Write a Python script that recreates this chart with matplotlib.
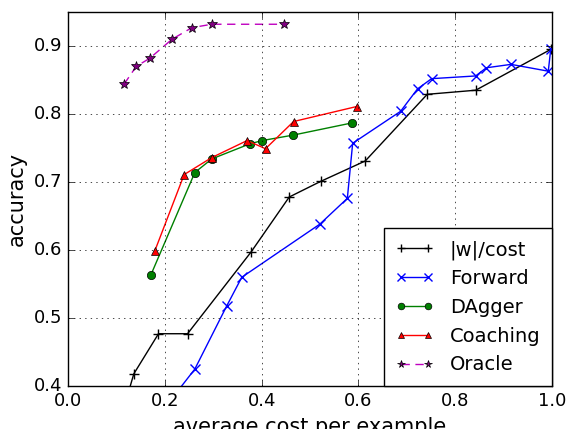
import matplotlib
matplotlib.use("Agg")
import matplotlib.pyplot as plt

plt.style.use('classic')

w_x = [0.10, 0.136, 0.187, 0.247, 0.378, 0.457, 0.522, 0.614, 0.742, 0.842, 0.997]
w_y = [0.33, 0.418, 0.477, 0.477, 0.597, 0.678, 0.701, 0.731, 0.829, 0.835, 0.895]

fw_x = [0.18, 0.262, 0.328, 0.359, 0.520, 0.577, 0.588, 0.687, 0.722, 0.751, 0.842, 0.864, 0.915, 0.992, 0.997]
fw_y = [0.35, 0.425, 0.518, 0.560, 0.638, 0.676, 0.757, 0.804, 0.837, 0.852, 0.856, 0.868, 0.873, 0.863, 0.895]

dag_x = [0.171, 0.262, 0.297, 0.375, 0.401, 0.465, 0.587]
dag_y = [0.563, 0.714, 0.734, 0.756, 0.761, 0.769, 0.787]

coach_x = [0.179, 0.240, 0.297, 0.370, 0.408, 0.466, 0.596]
coach_y = [0.598, 0.711, 0.736, 0.761, 0.749, 0.789, 0.811]

oracle_x = [0.116, 0.141, 0.169, 0.215, 0.256, 0.297, 0.446]
oracle_y = [0.844, 0.870, 0.882, 0.910, 0.927, 0.932, 0.932]

fig = plt.figure(figsize=(5.71, 4.29), dpi=100, facecolor='white')
ax = fig.add_axes([0.119, 0.100, 0.848, 0.872])

ax.plot(w_x, w_y, 'k+-', label='|w|/cost', markersize=7, markeredgewidth=1)
ax.plot(fw_x, fw_y, 'bx-', label='Forward', markersize=7, markeredgewidth=1)
ax.plot(dag_x, dag_y, 'go-', label='DAgger', markersize=6)
ax.plot(coach_x, coach_y, 'r^-', label='Coaching', markersize=6)
ax.plot(oracle_x, oracle_y, 'm*--', label='Oracle', markersize=7, markerfacecolor='purple',
        dashes=(6, 4))

ax.set_xlim(0, 1)
ax.set_ylim(0.4, 0.95)
ax.set_xticks([0.0, 0.2, 0.4, 0.6, 0.8, 1.0])
ax.set_yticks([0.4, 0.5, 0.6, 0.7, 0.8, 0.9])
ax.tick_params(labelsize=13)
ax.grid(True)
ax.set_xlabel('average cost per example', fontsize=15)
ax.set_ylabel('accuracy', fontsize=15)
ax.legend(loc='lower right', fontsize=14, borderaxespad=0, numpoints=2,
          borderpad=0.6, markerscale=0.8)

fig.savefig('out.png', dpi=100, facecolor='white')
